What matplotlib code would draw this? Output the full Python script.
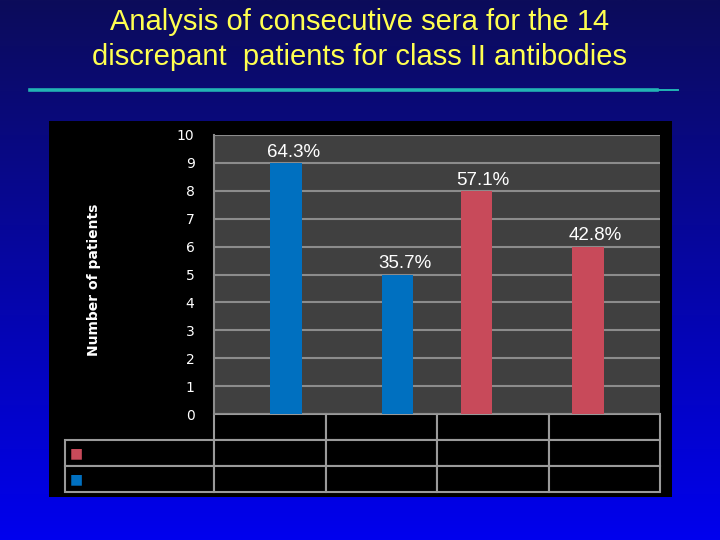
import numpy as np
import matplotlib.pyplot as plt
from matplotlib.patches import Rectangle
from matplotlib.lines import Line2D

# data
categories = ["A", "B", "C", "D"]
blue_vals = [9, 5, 0, 0]
red_vals = [0, 0, 8, 6]
blue_labels = ["64.3%", "35.7%", "", ""]
red_labels = ["", "", "57.1%", "42.8%"]
yticks = list(range(0, 11))

W, H = 720, 540
fig = plt.figure(figsize=(7.2, 5.4), dpi=100)

# slide background: vertical navy -> blue gradient
bg = fig.add_axes([0, 0, 1, 1], zorder=-10)
top = np.array([12, 12, 90]) / 255
bot = np.array([0, 0, 238]) / 255
t = np.linspace(0, 1, 256)[:, None]
grad = top * (1 - t) + bot * t
bg.imshow(grad[:, None, :].repeat(2, axis=1), aspect="auto", extent=[0, 1, 0, 1])
bg.set_axis_off()

def fx(px):
    return px / W

def fy(py):
    return 1 - py / H

# title
fig.text(0.5, fy(22), "Analysis of consecutive sera for the 14", ha="center", va="center",
         color="#ffff50", fontsize=21, family="Liberation Sans")
fig.text(0.5, fy(57), "discrepant  patients for class II antibodies", ha="center", va="center",
         color="#ffff50", fontsize=21, family="Liberation Sans")
fig.add_artist(Line2D([fx(30), fx(657)], [fy(90), fy(90)], color="#22b4b4", lw=2.6))
fig.add_artist(Line2D([fx(657), fx(678)], [fy(90), fy(90)], color="#22b4b4", lw=1.4))

# black chart panel
fig.add_artist(Rectangle((fx(49), fy(497)), fx(672) - fx(49), fy(121) - fy(497),
                         facecolor="black", edgecolor="none", transform=fig.transFigure, zorder=0))

ax = fig.add_axes([fx(214), fy(414), fx(660) - fx(214), fy(135) - fy(414)], zorder=2)
ax.set_facecolor("#404040")
x = np.arange(len(categories))
bw = 0.28
ax.bar(x + 0.145, blue_vals, bw, color="#0070c0", zorder=3)
ax.bar(x - 0.145, red_vals, bw, color="#c84a5a", zorder=3)
for i in range(len(categories)):
    if blue_labels[i]:
        ax.text(x[i] + 0.145 + 0.07, blue_vals[i] + 0.08, blue_labels[i], ha="center", va="bottom",
                color="white", fontsize=13.5, family="Liberation Sans", zorder=4)
    if red_labels[i]:
        ax.text(x[i] - 0.145 + 0.06, red_vals[i] + 0.08, red_labels[i], ha="center", va="bottom",
                color="white", fontsize=13.5, family="Liberation Sans", zorder=4)

ax.set_xlim(-0.5, 3.5)
ax.set_ylim(0, 10)
ax.set_yticks(yticks)
ax.set_yticklabels([str(v) for v in yticks], color="white", fontsize=10)
ax.tick_params(axis="y", length=0, pad=14)
ax.set_xticks([])
ax.yaxis.grid(True, color="#8c8c8c", lw=1.5, zorder=1)
ax.set_axisbelow(True)
for s in ["top", "right", "bottom"]:
    ax.spines[s].set_visible(False)
ax.spines["left"].set_color("#8c8c8c")
ax.spines["left"].set_linewidth(1.5)
ax.set_ylabel("Number of patients", color="white", fontsize=10, fontweight="bold")
ax.yaxis.set_label_coords((101 - 214) / 446, 0.48)

# empty data table with legend keys in the row-label column
tbl = ax.table(cellText=[[""] * 4, [""] * 4], colLabels=[""] * 4, colWidths=[0.25] * 4,
               bbox=[0, -(492 - 414) / 279, 1, (492 - 414) / 279])
row_h = tbl.get_celld()[(1, 0)].get_height()
key_colors = ["#c84a5a", "#0070c0"]
for r, kc in enumerate(key_colors, start=1):
    cell = tbl.add_cell(r, -1, width=(214 - 65) / 446, height=row_h, text="\u25a0", loc="left")
    cell.get_text().set_color(kc)
    cell.PAD = 0.03
tbl.auto_set_font_size(False)
for (r, c), cell in tbl.get_celld().items():
    cell.set_facecolor("black")
    cell.set_edgecolor("#9a9a9a")
    cell.set_linewidth(1.5)
    cell.set_fontsize(10)

fig.savefig("out.png", dpi=100, facecolor=fig.get_facecolor())
